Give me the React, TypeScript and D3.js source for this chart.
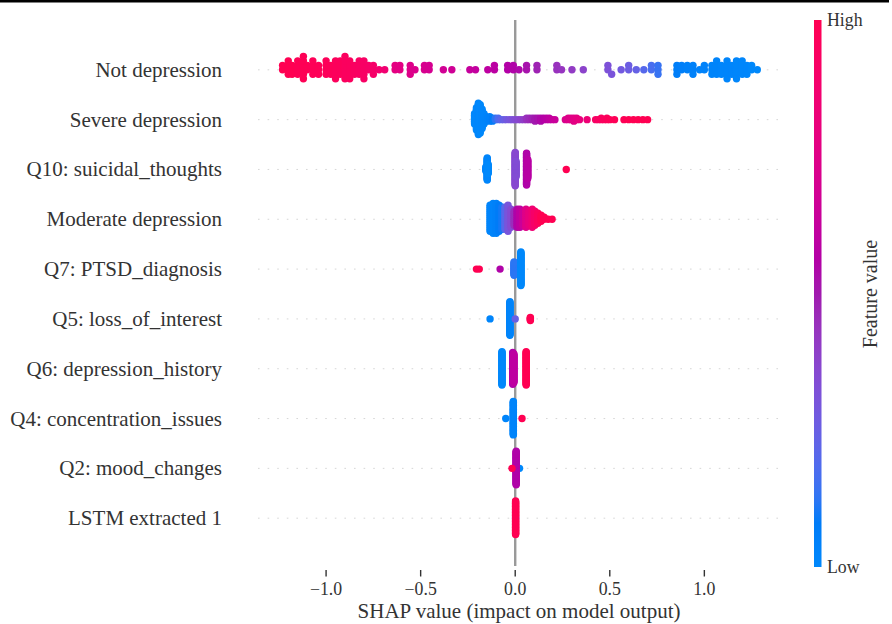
import React, { useEffect, useRef } from 'react'
import { scaleLinear, select, range, min, max, hcl, format } from 'd3'

const features = [
  'Not depression',
  'Severe depression',
  'Q10: suicidal_thoughts',
  'Moderate depression',
  'Q7: PTSD_diagnosis',
  'Q5: loss_of_interest',
  'Q6: depression_history',
  'Q4: concentration_issues',
  'Q2: mood_changes',
  'LSTM extracted 1',
]

// [shap value, feature value (0 low .. 1 high), samples at that value]
const notDepression = [
  [-1.23, 1.0, 2], [-1.2, 1.0, 4], [-1.18, 1.0, 3], [-1.15, 0.99, 4], [-1.12, 0.99, 6],
  [-1.1, 0.99, 2], [-1.07, 0.98, 4], [-1.04, 0.98, 3], [-1.0, 0.97, 4], [-0.975, 0.97, 3],
  [-0.95, 0.96, 5], [-0.925, 0.96, 4], [-0.9, 0.95, 6], [-0.875, 0.95, 5], [-0.85, 0.94, 3],
  [-0.825, 0.93, 4], [-0.8, 0.92, 5], [-0.775, 0.91, 2], [-0.75, 0.9, 3], [-0.72, 0.88, 1],
  [-0.69, 0.86, 1], [-0.635, 0.78, 2], [-0.61, 0.77, 2], [-0.555, 0.74, 3], [-0.53, 0.73, 1],
  [-0.48, 0.71, 2], [-0.455, 0.7, 2], [-0.38, 0.68, 1], [-0.335, 0.67, 1], [-0.24, 0.63, 1],
  [-0.21, 0.62, 1], [-0.145, 0.6, 1], [-0.11, 0.59, 2], [-0.04, 0.56, 2], [-0.01, 0.55, 2],
  [0.02, 0.54, 1], [0.06, 0.52, 2], [0.115, 0.48, 2], [0.22, 0.44, 2], [0.245, 0.43, 1],
  [0.3, 0.41, 1], [0.36, 0.38, 1], [0.49, 0.32, 2], [0.51, 0.31, 1], [0.56, 0.28, 1],
  [0.6, 0.26, 2], [0.64, 0.24, 1], [0.68, 0.2, 1], [0.72, 0.17, 2], [0.755, 0.14, 3],
  [0.855, 0.07, 3], [0.88, 0.06, 2], [0.91, 0.05, 2], [0.94, 0.05, 3], [0.975, 0.04, 1],
  [1.0, 0.04, 2], [1.04, 0.03, 3], [1.065, 0.03, 4], [1.09, 0.02, 3], [1.12, 0.02, 5],
  [1.145, 0.02, 3], [1.17, 0.01, 5], [1.2, 0.01, 4], [1.225, 0.01, 3], [1.25, 0.0, 2],
  [1.28, 0.0, 1],
]
const severeDepression = [
  [-0.215, 0.0, 8], [-0.205, 0.0, 16], [-0.195, 0.01, 22], [-0.185, 0.0, 20], [-0.175, 0.01, 14],
  [-0.165, 0.02, 8], [-0.155, 0.03, 4], [-0.145, 0.04, 2], [-0.135, 0.05, 4], [-0.12, 0.08, 3],
  [-0.105, 0.12, 2], [-0.09, 0.18, 2], [-0.075, 0.22, 1], [-0.06, 0.25, 1], [-0.045, 0.28, 1],
  [-0.03, 0.3, 1], [-0.015, 0.32, 1], [0.0, 0.34, 1], [0.015, 0.36, 1], [0.03, 0.38, 1],
  [0.045, 0.4, 1], [0.06, 0.44, 2], [0.075, 0.46, 2], [0.09, 0.48, 2], [0.105, 0.5, 3],
  [0.12, 0.52, 2], [0.135, 0.54, 3], [0.15, 0.56, 2], [0.165, 0.58, 2], [0.18, 0.6, 2],
  [0.195, 0.62, 1], [0.21, 0.64, 1], [0.265, 0.72, 1], [0.28, 0.74, 2], [0.295, 0.75, 2],
  [0.31, 0.76, 3], [0.325, 0.78, 2], [0.34, 0.8, 1], [0.38, 0.84, 1], [0.425, 0.92, 1],
  [0.44, 0.93, 1], [0.455, 0.94, 2], [0.47, 0.95, 1], [0.485, 0.96, 2], [0.5, 0.97, 1],
  [0.525, 0.98, 1], [0.575, 0.99, 1], [0.6, 1.0, 1], [0.625, 1.0, 1], [0.65, 1.0, 1],
  [0.675, 1.0, 1], [0.7, 1.0, 1],
]
const q10 = [
  [-0.155, 0.02, 6], [-0.148, 0.02, 28], [-0.143, 0.0, 12],
  [0.0, 0.36, 42], [0.004, 0.34, 20],
  [0.06, 0.55, 40], [0.066, 0.58, 24],
  [0.27, 1.0, 1],
]
const moderateDepression = [
  [-0.133, 0.02, 14], [-0.117, 0.03, 16], [-0.1, 0.05, 16], [-0.085, 0.08, 14], [-0.07, 0.1, 12],
  [-0.054, 0.2, 12], [-0.038, 0.3, 14], [-0.022, 0.35, 10], [-0.006, 0.45, 8], [0.01, 0.55, 10],
  [0.025, 0.6, 10], [0.04, 0.65, 8], [0.057, 0.75, 10], [0.073, 0.8, 8], [0.09, 0.85, 10],
  [0.104, 0.9, 8], [0.12, 0.95, 6], [0.137, 1.0, 4], [0.153, 1.0, 2], [0.174, 1.0, 1],
  [0.195, 1.0, 1],
]
const q7 = [
  [-0.205, 1.0, 1], [-0.19, 1.0, 1], [-0.08, 0.55, 1],
  [-0.006, 0.12, 18], [0.03, 0.0, 44],
]
const q5 = [
  [-0.133, 0.02, 1], [-0.028, 0.03, 44], [0.0, 0.25, 1], [0.08, 1.0, 5],
]
const q6 = [
  [-0.07, 0.0, 42], [-0.013, 0.55, 40], [-0.007, 0.6, 36], [0.058, 1.0, 42],
]
const q4 = [
  [-0.05, 0.02, 1], [-0.01, 0.03, 44], [0.036, 1.0, 1],
]
const q2 = [
  [0.023, 0.0, 1], [0.005, 0.55, 44], [-0.017, 1.0, 1],
]
const lstm1 = [
  [0.002, 0.5, 2], [0.002, 1.0, 44],
]
const featureRows = [notDepression, severeDepression, q10, moderateDepression, q7, q5, q6, q4, q2, lstm1]
const xTicks = [-1.0, -0.5, 0.0, 0.5, 1.0]

const width = 892, height = 624
const plot = { left: 258, right: 780, top: 20, bottom: 568 }
const font = '"Liberation Serif", "Times New Roman", serif'

// shap red_blue colormap (lch interpolation)
function shapColor(t: number) {
  const l = t < 0.5 ? 54 - 28 * t : 40 + 28 * (t - 0.5)
  return hcl(266.93 + 113.39 * t, 70 + 20 * t, l).formatHex()
}

// beeswarm stacking like shap: bin values, alternate up/down within a bin
function swarmOffsets(vals: number[]) {
  const lo = min(vals)!, hi = max(vals)!
  const quant = vals.map(v => Math.round(100 * (v - lo) / (hi - lo + 1e-8)))
  const order = range(vals.length).sort((a, b) => quant[a] - quant[b] || a - b)
  const ys = vals.map(() => 0)
  let layer = 0, lastBin = -1
  order.forEach(i => {
    if (quant[i] !== lastBin) layer = 0
    ys[i] = Math.ceil(layer / 2) * ((layer % 2) * 2 - 1)
    layer += 1
    lastBin = quant[i]
  })
  const top = max(ys)! + 1
  return ys.map(y => y * 0.9 * (0.4 / top))
}

function App() {
  const svgRef = useRef<SVGSVGElement>(null)

  useEffect(() => {
    const svg = select(svgRef.current)
    svg.selectAll('*').remove()

    const xScale = scaleLinear().domain([-1.36, 1.4]).range([plot.left, plot.right])
    const yScale = scaleLinear().domain([-1, features.length]).range([plot.bottom, plot.top])
    const n = features.length

    // border line at the top of the image
    svg.append('rect').attr('x', 0).attr('y', 0).attr('width', 889).attr('height', 2.5).attr('fill', '#000')

    // dotted row guides
    features.forEach((name, i) => {
      svg.append('line')
        .attr('x1', plot.left).attr('x2', plot.right)
        .attr('y1', yScale(n - 1 - i)).attr('y2', yScale(n - 1 - i))
        .attr('stroke', '#cccccc').attr('stroke-width', 0.8)
        .attr('stroke-dasharray', '1.6 8')
    })

    // zero line
    svg.append('line')
      .attr('x1', xScale(0)).attr('x2', xScale(0))
      .attr('y1', plot.top).attr('y2', plot.bottom - 2)
      .attr('stroke', '#999999').attr('stroke-width', 2.4)

    featureRows.forEach((row, i) => {
      const pts = row.flatMap(([v, f, cnt]) => range(cnt).map(() => [v, f]))
      const offs = swarmOffsets(pts.map(p => p[0]))
      const pos = n - 1 - i
      svg.append('g')
        .selectAll('circle')
        .data(pts)
        .join('circle')
        .attr('cx', d => xScale(d[0]))
        .attr('cy', (d, j) => yScale(pos + offs[j]))
        .attr('r', 3.7)
        .attr('fill', d => shapColor(d[1]))
    })

    // feature names
    svg.append('g').selectAll('text')
      .data(features)
      .join('text')
      .attr('x', 222)
      .attr('y', (d, i) => yScale(n - 1 - i) + 7)
      .attr('text-anchor', 'end')
      .attr('font-family', font)
      .attr('font-size', 21)
      .attr('fill', '#333333')
      .text(d => d)

    // x axis
    const fmt = format('.1f')
    const xAxis = svg.append('g')
    xAxis.selectAll('line')
      .data(xTicks)
      .join('line')
      .attr('x1', d => xScale(d)).attr('x2', d => xScale(d))
      .attr('y1', 570).attr('y2', 576.5)
      .attr('stroke', '#333333').attr('stroke-width', 1.4)
    xAxis.selectAll('text')
      .data(xTicks)
      .join('text')
      .attr('x', d => xScale(d))
      .attr('y', 595)
      .attr('text-anchor', 'middle')
      .attr('font-family', font)
      .attr('font-size', 17.8)
      .attr('fill', '#333333')
      .text(d => fmt(d))
    svg.append('text')
      .attr('x', (plot.left + plot.right) / 2)
      .attr('y', 618)
      .attr('text-anchor', 'middle')
      .attr('font-family', font)
      .attr('font-size', 21)
      .attr('fill', '#333333')
      .text('SHAP value (impact on model output)')

    // colorbar
    const grad = svg.append('defs').append('linearGradient')
      .attr('id', 'shapbar').attr('x1', 0).attr('y1', 1).attr('x2', 0).attr('y2', 0)
    grad.selectAll('stop')
      .data(range(0, 1.0001, 0.02))
      .join('stop')
      .attr('offset', d => d)
      .attr('stop-color', d => shapColor(d))
    svg.append('rect')
      .attr('x', 814).attr('y', plot.top)
      .attr('width', 7.5).attr('height', plot.bottom - plot.top - 1)
      .attr('fill', 'url(#shapbar)')
    svg.append('text').attr('x', 827).attr('y', plot.top + 6).attr('font-family', font)
      .attr('font-size', 17.8).attr('fill', '#333333').text('High')
    svg.append('text').attr('x', 827).attr('y', plot.bottom + 5).attr('font-family', font)
      .attr('font-size', 17.8).attr('fill', '#333333').text('Low')
    svg.append('text')
      .attr('transform', `translate(877, ${(plot.top + plot.bottom) / 2}) rotate(-90)`)
      .attr('text-anchor', 'middle')
      .attr('font-family', font)
      .attr('font-size', 20)
      .attr('fill', '#333333')
      .text('Feature value')
  }, [])

  return (
    <svg ref={svgRef} width={width} height={height}
      style={{ position: 'absolute', left: 0, top: 0, background: '#fff' }} />
  )
}

export default App
